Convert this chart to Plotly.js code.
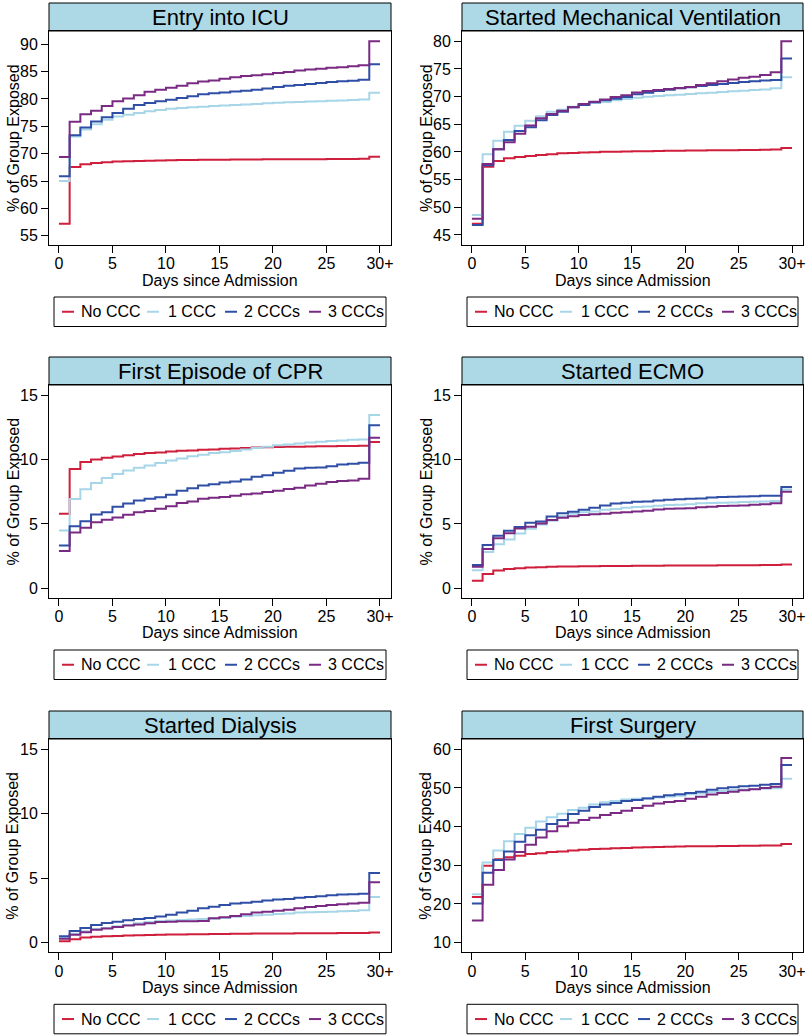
<!DOCTYPE html>
<html>
<head>
<meta charset="utf-8">
<script src="https://cdn.plot.ly/plotly-3.0.1.min.js"></script>
<style>
html,body{margin:0;padding:0;background:#fff;}
#chart{width:810px;height:1036px;}
</style>
</head>
<body>
<div id="chart"></div>
<script>
// ---------------- DATA ----------------
const seriesNames = ['No CCC', '1 CCC', '2 CCCs', '3 CCCs'];
// day index of each step; the last step (drawn from 29 to 30) is the "30+" value
const dayIndex = [0,1,2,3,4,5,6,7,8,9,10,11,12,13,14,15,16,17,18,19,20,21,22,23,24,25,26,27,28,29];
const xTickVals = [0, 5, 10, 15, 20, 25, 30];
const xTickText = ['0', '5', '10', '15', '20', '25', '30+'];
const xAxisTitle = 'Days since Admission';
const yAxisTitle = '% of Group Exposed';

const panelTitles = ['Entry into ICU', 'Started Mechanical Ventilation', 'First Episode of CPR',
                     'Started ECMO', 'Started Dialysis', 'First Surgery'];

// Entry into ICU
const icuNoCCC  = [57.2,67.55,68.05,68.3,68.45,68.55,68.62,68.68,68.72,68.76,68.8,68.83,68.85,68.87,68.89,68.9,68.92,68.93,68.95,68.96,68.97,68.98,68.99,69.0,69.0,69.01,69.02,69.03,69.05,69.45];
const icu1CCC   = [65.0,73.15,74.4,75.4,76.2,76.8,77.1,77.45,77.75,78.0,78.2,78.35,78.48,78.6,78.7,78.8,78.9,79.0,79.1,79.2,79.3,79.38,79.45,79.52,79.6,79.66,79.72,79.8,79.9,81.15];
const icu2CCC   = [65.85,73.35,74.8,75.9,76.65,77.45,78.2,78.9,79.27,79.6,79.87,80.2,80.5,80.86,81.04,81.2,81.35,81.5,81.7,81.9,82.2,82.4,82.56,82.75,82.93,83.1,83.23,83.35,83.5,86.35];
const icu3CCC   = [69.4,75.85,77.2,77.86,78.7,79.6,80.1,80.7,81.33,81.7,82.07,82.43,82.87,83.2,83.4,83.7,83.96,84.2,84.33,84.5,84.76,84.94,85.2,85.37,85.55,85.73,85.8,86.0,86.16,90.55];

// Started Mechanical Ventilation
const mvNoCCC   = [47.05,57.34,58.37,58.86,59.1,59.27,59.45,59.6,59.76,59.8,59.9,59.97,60.02,60.06,60.1,60.12,60.15,60.18,60.2,60.22,60.25,60.27,60.3,60.32,60.33,60.35,60.37,60.4,60.45,60.72];
const mv1CCC    = [48.6,59.58,62.04,63.67,64.75,65.65,66.44,67.28,67.64,68.18,68.54,68.85,69.03,69.34,69.57,69.8,70.0,70.12,70.24,70.36,70.48,70.6,70.72,70.84,70.96,71.08,71.2,71.3,71.5,73.5];
const mv2CCC    = [46.8,57.6,60.48,62.16,63.79,64.46,65.72,66.68,67.28,68.07,68.5,68.97,69.34,69.63,69.94,70.42,70.7,71.0,71.26,71.5,71.7,71.93,72.1,72.3,72.47,72.65,72.77,72.9,73.0,76.9];
const mv3CCC    = [47.95,57.83,60.48,61.75,63.3,64.8,66.1,66.86,67.46,68.1,68.67,69.08,69.5,69.94,70.24,70.75,71.0,71.2,71.4,71.57,71.75,72.1,72.4,72.77,73.1,73.4,73.6,73.9,74.4,80.0];

// First Episode of CPR
const cprNoCCC  = [5.79,9.26,9.8,10.0,10.13,10.24,10.34,10.42,10.5,10.55,10.63,10.68,10.7,10.75,10.78,10.83,10.86,10.9,10.93,10.95,10.97,10.99,11.0,11.01,11.02,11.03,11.04,11.05,11.06,11.35];
const cpr1CCC   = [4.5,6.93,7.7,8.17,8.56,8.87,9.15,9.36,9.54,9.74,9.93,10.08,10.26,10.37,10.5,10.57,10.66,10.78,10.89,10.99,11.1,11.17,11.25,11.33,11.38,11.43,11.48,11.53,11.56,13.45];
const cpr2CCC   = [3.34,4.83,5.22,5.74,5.92,6.33,6.59,6.83,6.95,7.08,7.26,7.57,7.78,7.99,8.09,8.22,8.3,8.46,8.66,8.79,8.97,9.13,9.31,9.36,9.39,9.47,9.62,9.67,9.75,12.65];
const cpr3CCC   = [2.9,4.34,4.7,5.14,5.32,5.5,5.71,5.92,6.0,6.18,6.38,6.62,6.75,6.95,7.03,7.1,7.2,7.3,7.37,7.48,7.58,7.71,7.81,7.99,8.12,8.25,8.33,8.38,8.51,11.69];

// Started ECMO
const ecmoNoCCC = [0.59,1.13,1.39,1.5,1.57,1.63,1.65,1.68,1.7,1.71,1.72,1.73,1.74,1.75,1.75,1.76,1.77,1.77,1.78,1.78,1.79,1.79,1.79,1.8,1.8,1.8,1.8,1.81,1.81,1.85];
const ecmo1CCC  = [1.42,2.82,3.43,3.8,4.27,4.63,4.96,5.25,5.61,5.79,5.92,5.97,6.1,6.17,6.25,6.32,6.36,6.41,6.47,6.49,6.54,6.6,6.62,6.65,6.67,6.7,6.72,6.75,6.78,7.68];
const ecmo2CCC  = [1.81,3.38,4.08,4.47,4.76,5.09,5.2,5.59,5.84,5.94,6.1,6.25,6.44,6.59,6.64,6.72,6.75,6.83,6.88,6.91,6.96,6.98,7.06,7.09,7.11,7.14,7.16,7.19,7.2,7.86];
const ecmo3CCC  = [1.68,3.07,3.9,4.29,4.65,4.78,5.04,5.3,5.48,5.61,5.69,5.76,5.79,5.87,5.92,5.97,6.03,6.13,6.18,6.21,6.23,6.29,6.34,6.39,6.41,6.44,6.49,6.54,6.6,7.5];

// Started Dialysis
const dialNoCCC = [0.11,0.26,0.39,0.45,0.49,0.52,0.55,0.57,0.6,0.61,0.63,0.64,0.65,0.66,0.67,0.67,0.68,0.69,0.7,0.7,0.71,0.71,0.72,0.72,0.73,0.73,0.74,0.74,0.75,0.78];
const dial1CCC  = [0.44,0.68,0.88,1.06,1.14,1.27,1.37,1.5,1.6,1.68,1.72,1.76,1.8,1.84,1.86,1.92,2.0,2.07,2.12,2.17,2.22,2.27,2.33,2.35,2.38,2.4,2.43,2.45,2.51,3.54];
const dial2CCC  = [0.49,0.91,1.14,1.37,1.53,1.63,1.74,1.84,1.92,2.02,2.17,2.33,2.48,2.67,2.79,2.92,3.03,3.1,3.18,3.26,3.34,3.39,3.49,3.54,3.6,3.68,3.73,3.75,3.8,5.41];
const dial3CCC  = [0.31,0.62,0.8,0.99,1.09,1.22,1.32,1.4,1.5,1.6,1.63,1.65,1.65,1.68,1.89,1.97,2.07,2.2,2.33,2.4,2.48,2.56,2.67,2.77,2.85,2.92,2.98,3.03,3.1,4.68];

// First Surgery
const surgNoCCC = [21.8,29.9,31.6,32.1,32.5,32.9,33.1,33.45,33.6,33.8,34.0,34.2,34.3,34.4,34.5,34.6,34.7,34.75,34.8,34.85,34.9,34.93,34.96,35.0,35.02,35.05,35.08,35.1,35.15,35.5];
const surg1CCC  = [22.5,30.7,33.8,36.2,38.1,39.7,41.3,42.4,43.35,44.3,44.9,45.7,46.3,46.6,47.0,47.2,47.4,47.55,47.8,48.0,48.35,48.6,48.95,49.2,49.45,49.6,49.7,49.8,49.9,52.4];
const surg2CCC  = [20.1,28.1,31.4,33.6,36.1,37.8,39.2,40.7,41.7,43.3,44.1,45.1,45.7,46.1,46.6,46.9,47.3,47.76,48.1,48.36,48.7,49.05,49.57,49.9,50.17,50.43,50.6,50.86,51.0,55.95];
const surg3CCC  = [15.7,25.0,28.8,31.5,33.45,35.3,37.2,38.8,40.1,41.0,41.7,42.3,43.0,43.5,44.1,44.83,45.4,46.0,46.4,46.6,47.24,47.76,48.3,48.7,49.05,49.4,49.66,50.0,50.34,57.76];

const yTicksICU   = [55, 60, 65, 70, 75, 80, 85, 90];
const yTicksMV    = [45, 50, 55, 60, 65, 70, 75, 80];
const yTicksSmall = [0, 5, 10, 15];
const yTicksSurg  = [10, 20, 30, 40, 50, 60];

// ---------------- STYLE / LAYOUT ----------------
const seriesColors = ['#cf1f3c', '#a6d6e8', '#2f4ea5', '#7a2a82'];
const FONT = 'Liberation Sans, Arial, Helvetica, sans-serif';
const W = 810, H = 1036;
const px = x => x / W;
const py = y => 1 - y / H;

const colBox = [[49, 391], [462, 803]];
const rowBox = [[31, 245], [385, 598], [739, 952.3]];
const titleBarH = 28;

const panels = [
  {series: [icuNoCCC, icu1CCC, icu2CCC, icu3CCC],     yticks: yTicksICU,   yrange: [53.3, 92.43]},
  {series: [mvNoCCC, mv1CCC, mv2CCC, mv3CCC],         yticks: yTicksMV,    yrange: [43.19, 81.86]},
  {series: [cprNoCCC, cpr1CCC, cpr2CCC, cpr3CCC],     yticks: yTicksSmall, yrange: [-0.74, 15.78]},
  {series: [ecmoNoCCC, ecmo1CCC, ecmo2CCC, ecmo3CCC], yticks: yTicksSmall, yrange: [-0.74, 15.78]},
  {series: [dialNoCCC, dial1CCC, dial2CCC, dial3CCC], yticks: yTicksSmall, yrange: [-0.75, 15.8]},
  {series: [surgNoCCC, surg1CCC, surg2CCC, surg3CCC], yticks: yTicksSurg,  yrange: [7.51, 62.66]}
];

const traces = [];
const layout = {
  width: W, height: H,
  margin: {l: 0, r: 0, t: 0, b: 0, pad: 0},
  paper_bgcolor: '#ffffff', plot_bgcolor: '#ffffff',
  font: {family: FONT, size: 16, color: '#000'},
  showlegend: false,
  shapes: [], annotations: []
};

// legend item geometry relative to legend box left edge
const legSampleX = [8, 93, 171, 255];
const legSampleLen = 12;
const legTextX = [25, 112, 188, 272];

panels.forEach((p, i) => {
  const col = i % 2, row = Math.floor(i / 2);
  const [xl, xr] = colBox[col];
  const [yt, yb] = rowBox[row];
  const n = i === 0 ? '' : String(i + 1);
  const xa = 'xaxis' + n, ya = 'yaxis' + n;

  layout[xa] = {
    domain: [px(xl), px(xr)], anchor: 'y' + n,
    range: [-0.93, 31.03], tickmode: 'array', tickvals: xTickVals, ticktext: xTickText,
    ticks: 'outside', ticklen: 7, tickwidth: 1, tickcolor: '#000', ticklabelstandoff: -3,
    showline: true, mirror: true, linecolor: '#000', linewidth: 1,
    showgrid: false, zeroline: false, fixedrange: true,
    tickfont: {family: FONT, size: 16, color: '#000'}
  };
  layout[ya] = {
    domain: [py(yb), py(yt)], anchor: 'x' + n,
    range: p.yrange, tickmode: 'array', tickvals: p.yticks,
    ticks: 'outside', ticklen: 7, tickwidth: 1, tickcolor: '#000',
    showline: true, mirror: true, linecolor: '#000', linewidth: 1,
    showgrid: false, zeroline: false, fixedrange: true,
    tickfont: {family: FONT, size: 16, color: '#000'}
  };

  p.series.forEach((vals, s) => {
    const last = dayIndex[dayIndex.length - 1];
    traces.push({
      type: 'scatter', mode: 'lines', name: seriesNames[s],
      x: dayIndex.concat([last + 1]),
      y: vals.concat([vals[vals.length - 1]]),
      xaxis: 'x' + n, yaxis: 'y' + n,
      line: {shape: 'hv', color: seriesColors[s], width: 2},
      hoverinfo: 'x+y+name'
    });
  });

  // axis titles
  layout.annotations.push({xref: 'paper', yref: 'paper', x: px(xl - 36), y: py((yt + yb) / 2),
    xanchor: 'center', yanchor: 'middle', showarrow: false, textangle: -90, text: yAxisTitle,
    font: {family: FONT, size: 16, color: '#000'}});
  layout.annotations.push({xref: 'paper', yref: 'paper', x: px((xl + xr) / 2), y: py(yb + 35),
    xanchor: 'center', yanchor: 'middle', showarrow: false, text: xAxisTitle,
    font: {family: FONT, size: 16, color: '#000'}});

  // title bar
  layout.shapes.push({type: 'rect', xref: 'paper', yref: 'paper',
    x0: px(xl), x1: px(xr), y0: py(yt), y1: py(yt - titleBarH),
    fillcolor: '#add8e6', line: {color: '#000', width: 1}, layer: 'below'});
  layout.annotations.push({xref: 'paper', yref: 'paper', x: px((xl + xr) / 2), y: py(yt - titleBarH / 2),
    xanchor: 'center', yanchor: 'middle', showarrow: false, text: panelTitles[i],
    font: {family: FONT, size: 22, color: '#000'}});

  // legend box
  const lx0 = xl + 5, lx1 = xr - 5, ly0 = yb + 52, ly1 = yb + 81.5;
  const lyc = (ly0 + ly1) / 2;
  layout.shapes.push({type: 'rect', xref: 'paper', yref: 'paper',
    x0: px(lx0), x1: px(lx1), y0: py(ly1), y1: py(ly0),
    fillcolor: 'rgba(0,0,0,0)', line: {color: '#000', width: 1}});
  seriesNames.forEach((nm, s) => {
    layout.shapes.push({type: 'line', xref: 'paper', yref: 'paper',
      x0: px(lx0 + legSampleX[s]), x1: px(lx0 + legSampleX[s] + legSampleLen), y0: py(lyc), y1: py(lyc),
      line: {color: seriesColors[s], width: 2}});
    layout.annotations.push({xref: 'paper', yref: 'paper', x: px(lx0 + legTextX[s]), y: py(lyc),
      xanchor: 'left', yanchor: 'middle', showarrow: false, text: nm,
      font: {family: FONT, size: 16, color: '#000'}});
  });
});

Plotly.newPlot('chart', traces, layout, {staticPlot: true, displayModeBar: false});
</script>
</body>
</html>
